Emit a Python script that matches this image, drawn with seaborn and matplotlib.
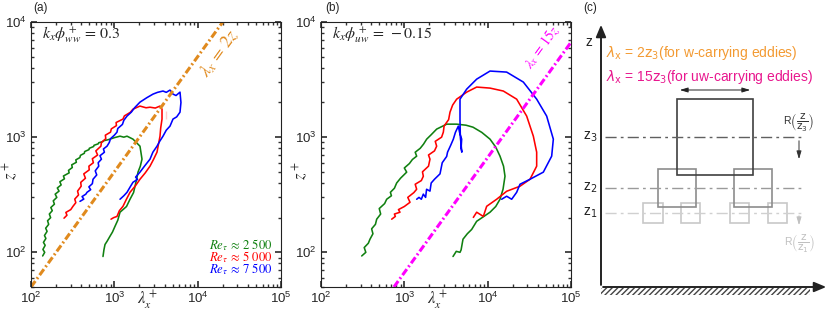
import numpy as np
import pandas as pd
import seaborn as sns
import matplotlib.pyplot as plt
from matplotlib.patches import Rectangle

# ---- panel (a): k_x phi_ww = 0.3 contours (lambda_x^+, z^+)
a_green_lam = [138, 146, 139, 148, 141, 151, 145, 156, 150, 163, 158, 172, 166, 180, 173, 191, 185, 204,
               195, 217, 207, 230, 222, 252, 245, 287, 282, 313, 308, 350, 345, 386, 392, 437, 440, 497,
               500, 565, 570, 640, 650, 730, 740, 840, 887, 1000, 1170, 1300, 1419, 1675, 2031, 2148,
               2050, 1923, 1850, 1771, 1700, 1542, 1400, 1170, 1100, 1018, 950, 887, 820, 773, 750, 731]
a_green_z = [93, 100, 106, 115, 122, 132, 140, 152, 162, 175, 188, 200, 215, 230, 245, 262, 280, 300,
             320, 340, 362, 385, 410, 435, 460, 490, 515, 545, 575, 605, 635, 665, 695, 725, 750, 780,
             800, 830, 850, 875, 895, 915, 930, 950, 961, 990, 1020, 1000, 1020, 961, 835, 644,
             560, 497, 430, 375, 330, 289, 250, 223, 190, 168, 150, 138, 125, 117, 105, 92]
a_red_lam = [249, 270, 262, 300, 319, 345, 335, 372, 362, 400, 395, 450, 430, 500, 495, 560, 545, 630,
             600, 690, 700, 790, 780, 900, 920, 1060, 1050, 1270, 1320, 1550, 1675, 2031, 2400, 2679,
             3100, 3532, 3733, 3733, 3600, 3532, 3400, 3251, 2950, 2679, 2350, 2031, 1800, 1542, 1400,
             1270, 1150, 1076, 980, 912]
a_red_z = [198, 210, 222, 235, 251, 270, 290, 315, 340, 375, 405, 440, 480, 520, 560, 600, 650, 700,
           760, 835, 900, 970, 1040, 1105, 1180, 1260, 1340, 1436, 1530, 1640, 1751, 1862, 1800, 1820,
           1790, 1862, 1751, 1436, 1200, 1020, 880, 741, 640, 560, 490, 431, 380, 332, 290,
           251, 230, 205, 200, 194]
a_red_dot_lam = [4170, 4170]
a_red_dot_z = [1450, 1700]
a_blue_lam = [387, 430, 410, 455, 470, 520, 495, 545, 555, 615, 590, 650, 640, 700, 673, 760, 740, 817,
              870, 900, 1000, 1076, 1100, 1250, 1300, 1419, 1600, 1750, 2031, 2450, 2911, 3300, 3838,
              4200, 4656, 5057, 5500, 6138, 6300, 6138, 5600, 5057, 4656, 4200, 3838, 3500, 3251, 2900,
              2679, 2300, 2031, 1800, 1900, 1675, 1550, 1419, 1300, 1170]
a_blue_z = [277, 290, 305, 320, 332, 350, 370, 395, 431, 470, 510, 560, 600, 644, 690, 740, 790, 835,
            900, 970, 1040, 1105, 1190, 1290, 1400, 1524, 1650, 1800, 2014, 2200, 2365, 2450, 2515,
            2450, 2563, 2365, 2300, 2460, 2000, 1648, 1500, 1436, 1247, 1150, 1020, 920, 835, 740,
            644, 560, 497, 450, 430, 406, 370, 332, 310, 289]

# ---- panel (b): k_x phi_uw = -0.15 contours
b_green_lam = [308, 345, 330, 370, 387, 420, 405, 450, 466, 520, 500, 580, 614, 700, 680, 760, 809, 900,
               1067, 1000, 1150, 1250, 1406, 1350, 1550, 1700, 1854, 2100, 2443, 3221, 4246, 5500, 6668,
               8500, 10670, 12500, 14060, 15500, 16140, 15290, 14060, 12500, 10670, 9000, 7379, 6427,
               5700, 5057, 4800, 4656, 4200, 3838]
b_green_z = [93, 100, 110, 120, 130, 145, 160, 175, 194, 215, 240, 265, 289, 310, 332, 360, 400, 440,
             497, 540, 590, 640, 684, 740, 800, 870, 961, 1050, 1175, 1297, 1297, 1270, 1221,
             1100, 961, 820, 684, 560, 458, 353, 289, 250, 223, 205, 186, 158,
             145, 130, 105, 100, 102, 92]
b_red_lam = [705, 780, 760, 887, 850, 1000, 1170, 1100, 1300, 1406, 1350, 1600, 1690, 1650, 1950, 2031,
             1950, 2300, 2443, 2350, 2800, 2938, 3000, 3400, 3532, 3800, 4246, 5598, 7379, 10670, 15420,
             22280, 29380, 35320, 38730, 38730, 32210, 24430, 16900, 12820, 9727, 8872, 7379, 6730]
b_red_z = [194, 205, 215, 223, 235, 250, 272, 300, 330, 353, 390, 420, 458, 500, 560, 644,
           700, 760, 835, 920, 1000, 1105, 1250, 1420, 1648, 1900, 2138, 2460, 2723, 2667, 2515,
           2138, 1524, 1020, 741, 560, 431, 375, 339, 289, 251, 205, 223, 201]
b_blue_lam = [1406, 1500, 1600, 1690, 1800, 1850, 2031, 2100, 2300, 2679, 2750, 2850, 3221, 3300, 3600,
              3873, 4100, 4446, 4600, 4875, 4800, 4900, 4700, 4656, 4656, 5598, 7379, 10670, 16900,
              26790, 38730, 51050, 61380, 58620, 46560, 32210, 24430, 22280, 19410, 16900, 14720]
b_blue_z = [289, 300, 289, 320, 300, 353, 340, 400, 431, 480, 527, 600, 680, 741, 850,
            961, 1100, 1247, 1100, 961, 800, 741, 1000, 1400, 2138, 2612, 3190, 3750, 3673,
            3009, 2138, 1524, 961, 684, 497, 431, 390, 332, 289, 307, 289]

re_labels = [r'$Re_\tau\,\approx\,2\ 500$', r'$Re_\tau\,\approx\,5\ 000$', r'$Re_\tau\,\approx\,7\ 500$']
re_colors = ['#108010', '#ff0000', '#0000ff']
ref_line_z = [50, 1e4]
slope_a = 2
slope_b = 15

# ---- panel (c) schematic: heights above the wall and eddy sizes/centres
level_h = [74, 99, 150]
level_names = ['z$_1$', 'z$_2$', 'z$_3$']
level_colors = ['#c8c8c8', '#8c8c8c', '#404040']
dash_colors = ['#d0d0d0', '#9a9a9a', '#606060']
eddy_size = [19.5, 38, 76]
eddy_centers = [[653, 690.5, 739.5, 777.5], [677, 753], [715]]

sns.set_theme(style='ticks')
plt.rcParams['font.family'] = ['Liberation Sans', 'DejaVu Sans']
plt.rcParams['mathtext.fontset'] = 'stix'

fig = plt.figure(figsize=(8.3, 3.16), dpi=100)
W, H = 830, 316
ax_a = fig.add_axes([31 / W, 29 / H, 250 / W, 265 / H])
ax_b = fig.add_axes([321 / W, 29 / H, 250 / W, 265 / H])

curves_a = [(a_green_lam, a_green_z), (a_red_lam, a_red_z), (a_blue_lam, a_blue_z)]
curves_b = [(b_green_lam, b_green_z), (b_red_lam, b_red_z), (b_blue_lam, b_blue_z)]

for ax, curves in [(ax_a, curves_a), (ax_b, curves_b)]:
    for (lam, z), c in zip(curves, re_colors):
        sns.lineplot(x=lam, y=z, sort=False, estimator=None, color=c, lw=1.15, ax=ax)
    ax.set(xscale='log', yscale='log', xlim=(1e2, 1e5), ylim=(50, 1e4))
    ax.tick_params(which='both', direction='in', top=True, right=True, labelsize=9.5,
                   color='#333333', pad=3)
    ax.tick_params(which='major', length=4)
    ax.tick_params(which='minor', length=2)
    for s in ax.spines.values():
        s.set_color('#222222')
        s.set_linewidth(0.8)
    ax.set_xlabel(r'$\lambda_x^+$', fontsize=12, labelpad=0)
    ax.xaxis.set_label_coords(0.464, -0.05)
    ax.xaxis.label.set_verticalalignment('center')
    ax.set_ylabel(r'$z^+$', fontsize=12, labelpad=0)
    ax.yaxis.set_label_coords(-0.085, 0.44)
    ax.yaxis.label.set_verticalalignment('center')

sns.lineplot(x=a_red_dot_lam, y=a_red_dot_z, color='#ff0000', lw=1.2, ls=':', ax=ax_a)

# reference lines lambda_x = 2z and 15z
za = np.array(ref_line_z)
dashdot = (0, (2.4, 0.9, 0.6, 0.9))
ax_a.plot(slope_a * za, za, color='#e08a1e', lw=2.2, ls=dashdot)
ax_b.plot(slope_b * za, za, color='#ff00ff', lw=2.2, ls=dashdot)

fig.canvas.draw()
p1 = ax_a.transData.transform((100, 50))
p2 = ax_a.transData.transform((2e4, 1e4))
ang = np.degrees(np.arctan2(p2[1] - p1[1], p2[0] - p1[0]))
ax_a.text(18500, 5300, r'$\lambda_x\,=\,2z$', color='#e08a1e', fontsize=13, rotation=ang,
          rotation_mode='anchor', ha='center', va='center')
ax_b.text(44000, 6000, r'$\lambda_x\,=\,15z$', color='#ff00ff', fontsize=10, rotation=ang,
          rotation_mode='anchor', ha='center', va='center')

ax_a.text(0.045, 0.95, r'$k_x\phi^+_{ww}\,=\,0.3$', transform=ax_a.transAxes, fontsize=11.5, va='center')
ax_b.text(0.045, 0.95, r'$k_x\phi^+_{uw}\,=\,-0.15$', transform=ax_b.transAxes, fontsize=11.5, va='center')
for lab, c, yy in zip(re_labels, re_colors, [0.157, 0.113, 0.069]):
    ax_a.text(0.968, yy, lab, color=c, fontsize=9.2, ha='right', va='center', transform=ax_a.transAxes)

fig.text(33 / W, 1 - 8 / H, '(a)', fontsize=8.5, va='center')
fig.text(325 / W, 1 - 8 / H, '(b)', fontsize=8.5, va='center')
fig.text(583 / W, 1 - 8 / H, '(c)', fontsize=8.5, va='center')

# ---- panel (c)
ax_c = fig.add_axes([575 / W, 0, 255 / W, 1])
ax_c.set_xlim(575, 830)
ax_c.set_ylim(0, 316)
ax_c.axis('off')
wall = 29
x0 = 601
arrow_kw = dict(arrowstyle='-|>,head_length=0.6,head_width=0.25', color='#222222', lw=1.4)
ax_c.annotate('', xy=(x0, 294), xytext=(x0, wall - 0.7), arrowprops=arrow_kw)
ax_c.annotate('', xy=(829, wall), xytext=(x0 - 0.7, wall), arrowprops=arrow_kw)
ax_c.add_patch(Rectangle((x0, wall - 8), 209, 7, facecolor='none', edgecolor='#444444',
                         hatch='//////', lw=0))
ax_c.text(592, 316 - 42, 'z', fontsize=10, ha='right', va='center', color='#222222')

for h, name, lc, dc, sz, cens in zip(level_h, level_names, level_colors, dash_colors,
                                     eddy_size, eddy_centers):
    y = wall + h
    ax_c.plot([605, 805], [y, y], color=dc, lw=1.0, ls=(0, (8, 3, 2, 3)))
    ax_c.text(597, y, name, fontsize=10, ha='right', va='center', color='#222222',
              math_fontfamily='dejavusans')
    for cx in cens:
        ax_c.add_patch(Rectangle((cx - sz / 2, y - sz / 2), sz, sz, facecolor='none',
                                 edgecolor=lc, lw=1.2))

top3 = wall + level_h[2] + eddy_size[2] / 2
ax_c.annotate('', xy=(677, top3 + 9), xytext=(753, top3 + 9),
              arrowprops=dict(arrowstyle='<|-|>,head_length=0.4,head_width=0.12', color='#222222', lw=0.7))
ax_c.text(799, 316 - 122, r'R$\left(\dfrac{\mathrm{z}}{\mathrm{z}_3}\right)$', fontsize=7.5,
          ha='center', va='center', color='#333333', math_fontfamily='dejavusans')
ax_c.annotate('', xy=(799, 316 - 162), xytext=(799, 316 - 138),
              arrowprops=dict(arrowstyle='-|>,head_length=0.4,head_width=0.12', color='#333333', lw=0.7))
ax_c.text(800, 316 - 243, r'R$\left(\dfrac{\mathrm{z}}{\mathrm{z}_1}\right)$', fontsize=7.5,
          ha='center', va='center', color='#c0c0c0', math_fontfamily='dejavusans')
ax_c.annotate('', xy=(799, 316 - 228), xytext=(799, 316 - 213),
              arrowprops=dict(arrowstyle='-|>,head_length=0.4,head_width=0.12', color='#c0c0c0', lw=0.7))

ax_c.text(606, 316 - 53, r'$\lambda_\mathrm{x}$ = 2$\mathrm{z}_3$(for w-carrying eddies)', fontsize=10,
          color='#f39a32', va='center', math_fontfamily='dejavusans')
ax_c.text(606, 316 - 77, r'$\lambda_\mathrm{x}$ = 15$\mathrm{z}_3$(for uw-carrying eddies)', fontsize=10,
          color='#e8178e', va='center', math_fontfamily='dejavusans')

fig.savefig('out.png', dpi=100)
